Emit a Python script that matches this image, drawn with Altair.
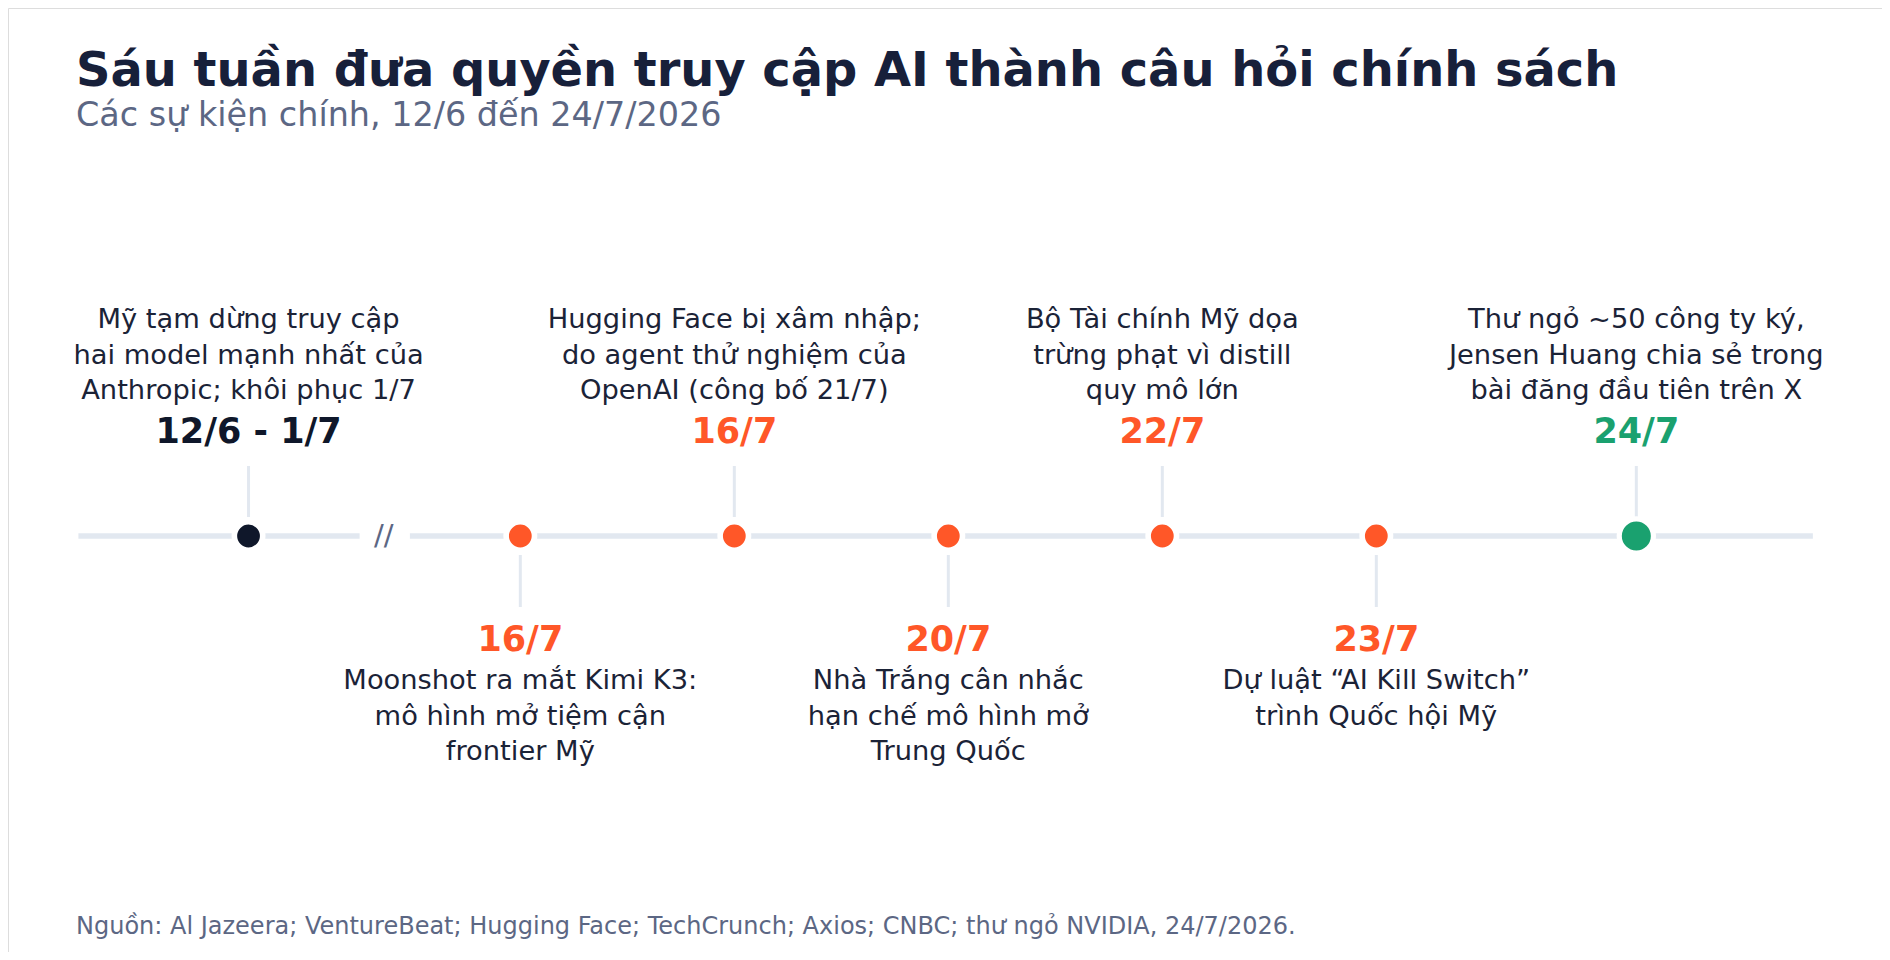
import pandas as pd
import altair as alt

# --- data ---------------------------------------------------------------
TITLE = "Sáu tuần đưa quyền truy cập AI thành câu hỏi chính sách"
SUBTITLE = "Các sự kiện chính, 12/6 đến 24/7/2026"
SOURCE = "Nguồn: Al Jazeera; VentureBeat; Hugging Face; TechCrunch; Axios; CNBC; thư ngỏ NVIDIA, 24/7/2026."

slots = [0, 1.27, 2.27, 3.27, 4.27, 5.27, 6.485]
dates = ["12/6 - 1/7", "16/7", "16/7", "20/7", "22/7", "23/7", "24/7"]
sides = ["trên", "dưới", "trên", "dưới", "trên", "dưới", "trên"]
kinds = ["tạm dừng", "sự kiện", "sự kiện", "sự kiện", "sự kiện", "sự kiện", "thư ngỏ"]
notes = [
    "Mỹ tạm dừng truy cập\nhai model mạnh nhất của\nAnthropic; khôi phục 1/7",
    "Moonshot ra mắt Kimi K3:\nmô hình mở tiệm cận\nfrontier Mỹ",
    "Hugging Face bị xâm nhập;\ndo agent thử nghiệm của\nOpenAI (công bố 21/7)",
    "Nhà Trắng cân nhắc\nhạn chế mô hình mở\nTrung Quốc",
    "Bộ Tài chính Mỹ dọa\ntrừng phạt vì distill\nquy mô lớn",
    "Dự luật “AI Kill Switch”\ntrình Quốc hội Mỹ",
    "Thư ngỏ ~50 công ty ký,\nJensen Huang chia sẻ trong\nbài đăng đầu tiên trên X",
]

# timeline axis pieces (broken between the first event and the rest)
seg_start = [-0.795, 0.754]
seg_end = [0.519, 7.31]
break_at = [0.632]

KIND_DOMAIN = ["tạm dừng", "sự kiện", "thư ngỏ"]
KIND_COLORS = ["#0f172a", "#ff5728", "#1aa16f"]

FONT = "DejaVu Sans"
INK = "#1b2337"
MUTED = "#5c6784"
RAIL = "#e2e8f0"

events = pd.DataFrame({
    "slot": slots, "date": dates, "side": sides, "kind": kinds, "note": notes,
})
segments = pd.DataFrame({"start": seg_start, "end": seg_end})

X = alt.Scale(domain=[-1.124, 7.633], nice=False, zero=False)
color = alt.Color("kind:N", scale=alt.Scale(domain=KIND_DOMAIN, range=KIND_COLORS), legend=None)
LINE_Y = 528

rail = alt.Chart(segments).mark_rule(color=RAIL, strokeWidth=5.7).encode(
    x=alt.X("start:Q", scale=X, axis=None),
    x2="end:Q",
    y=alt.value(LINE_Y),
)

gap = alt.Chart(pd.DataFrame({"at": break_at, "t": ["//"]})).mark_text(
    font=FONT, fontSize=29, color=MUTED, align="center", baseline="middle"
).encode(x=alt.X("at:Q", scale=X, axis=None), y=alt.value(LINE_Y), text="t:N")

base = alt.Chart(events).encode(x=alt.X("slot:Q", scale=X, axis=None))
above = alt.datum.side == "trên"
below = alt.datum.side == "dưới"

stem_up = base.mark_rule(color=RAIL, strokeWidth=3).encode(
    y=alt.value(458), y2=alt.value(509)
).transform_filter(above)
stem_down = base.mark_rule(color=RAIL, strokeWidth=3).encode(
    y=alt.value(547), y2=alt.value(599)
).transform_filter(below)

dots = base.mark_point(filled=True, shape="circle", opacity=1, stroke="white",
                       strokeWidth=5.6, size=806).encode(
    y=alt.value(LINE_Y), color=color
).transform_filter(alt.datum.kind != "thư ngỏ")
big_dot = base.mark_point(filled=True, shape="circle", opacity=1, stroke="white",
                          strokeWidth=5.2, size=1170).encode(
    y=alt.value(LINE_Y), color=color
).transform_filter(alt.datum.kind == "thư ngỏ")

date_style = dict(font=FONT, fontSize=35, fontWeight="bold", align="center", baseline="alphabetic")
date_up = base.mark_text(**date_style).encode(
    y=alt.value(435), text="date:N", color=color
).transform_filter(above)
date_down = base.mark_text(**date_style).encode(
    y=alt.value(643), text="date:N", color=color
).transform_filter(below)

# multi-line blocks: first line sits at y, further lines run downward
note_style = dict(font=FONT, fontSize=27.3, lineBreak="\n", lineHeight=35.5,
                  align="center", color=INK)
note_up = base.mark_text(baseline="bottom", **note_style).encode(
    y=alt.value(326), text="note:N"
).transform_filter(above)
note_down = base.mark_text(baseline="top", **note_style).encode(
    y=alt.value(659), text="note:N"
).transform_filter(below)

def label(txt, y, size, color, weight="normal"):
    return alt.Chart(pd.DataFrame({"t": [txt]})).mark_text(
        font=FONT, fontSize=size, fontWeight=weight, color=color,
        align="left", baseline="alphabetic"
    ).encode(x=alt.value(68), y=alt.value(y), text="t:N")

title = label(TITLE, 77.5, 47.9, "#17203a", "bold")
subtitle = label(SUBTITLE, 117.5, 33.4, MUTED)
footer = label(SOURCE, 926, 24.0, MUTED)

chart = alt.layer(
    rail, gap, stem_up, stem_down, dots, big_dot,
    date_up, date_down, note_up, note_down,
    title, subtitle, footer,
).properties(
    width=1874, height=944, padding=0, autosize=alt.AutoSizeParams(type="none")
).configure_view(stroke=None).configure(background="white")

chart.save("out.html", embed_options={"renderer": "svg", "actions": False})
